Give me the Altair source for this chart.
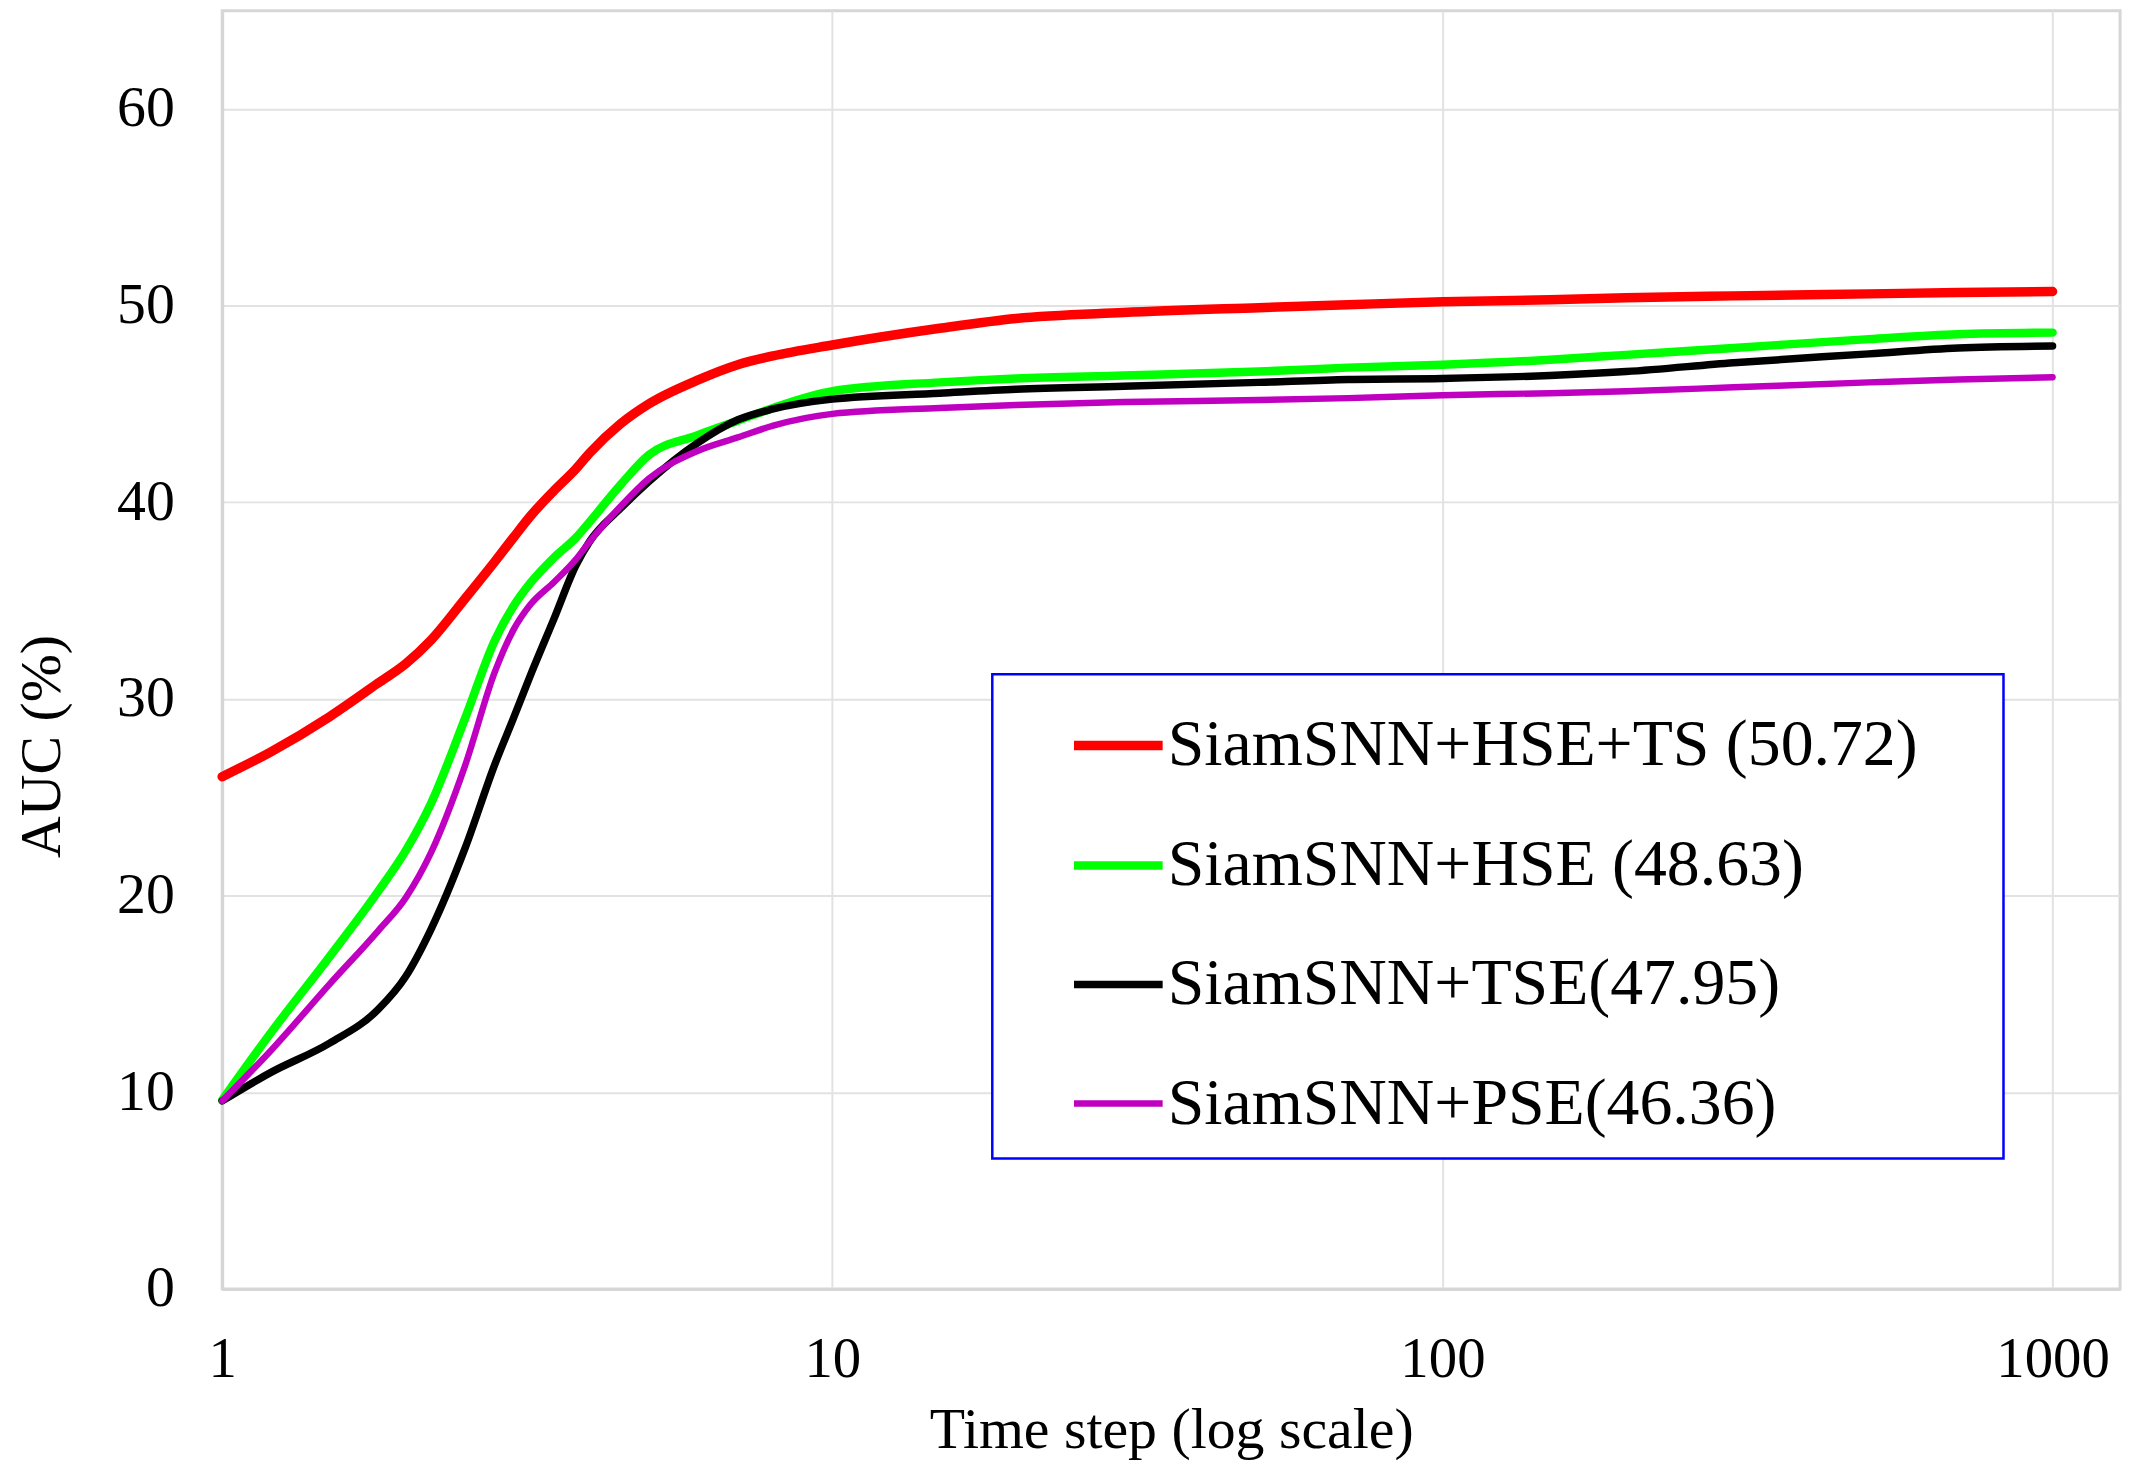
import altair as alt
import pandas as pd

# ---- data ----
steps = [1, 1.2, 1.5, 1.8, 2, 2.2, 2.5, 2.8, 3, 3.2, 3.5, 3.8, 4, 4.5, 5, 6, 7, 8,
         10, 15, 20, 30, 50, 70, 100, 150, 200, 300, 500, 700, 1000]

series_names = ["SiamSNN+HSE+TS (50.72)", "SiamSNN+HSE (48.63)",
                "SiamSNN+TSE(47.95)", "SiamSNN+PSE(46.36)"]

auc_hse_ts = [26.05, 27.3, 29.1, 30.8, 31.8, 33.0, 35.1, 37.0, 38.2, 39.3, 40.6,
              41.7, 42.5, 44.0, 45.0, 46.2, 47.0, 47.45, 48.0, 48.85, 49.35,
              49.65, 49.9, 50.05, 50.2, 50.3, 50.4, 50.5, 50.6, 50.67, 50.72]
auc_hse = [9.6, 13.0, 16.9, 20.2, 22.3, 24.7, 29.0, 33.0, 34.7, 35.9, 37.2,
           38.2, 39.0, 40.9, 42.4, 43.4, 44.15, 44.8, 45.65, 46.1, 46.3,
           46.45, 46.65, 46.85, 47.0, 47.25, 47.5, 47.85, 48.3, 48.55, 48.63]
auc_tse = [9.56, 11.0, 12.5, 14.2, 15.9, 18.3, 22.4, 26.7, 29.0, 31.2, 34.1,
           36.8, 38.0, 39.7, 41.05, 43.0, 44.2, 44.75, 45.25, 45.55, 45.75,
           45.9, 46.1, 46.25, 46.3, 46.45, 46.65, 47.1, 47.55, 47.85, 47.95]
auc_pse = [9.56, 12.1, 15.5, 18.2, 19.9, 22.2, 26.6, 31.4, 33.5, 34.8, 35.95,
           37.1, 38.0, 39.8, 41.2, 42.6, 43.3, 43.9, 44.5, 44.8, 44.95,
           45.1, 45.2, 45.3, 45.45, 45.55, 45.65, 45.85, 46.1, 46.25, 46.36]

colors = ["#ff0000", "#00ff00", "#000000", "#c000c0"]
widths = [9.5, 6.5, 6.5, 6.5]

y_ticks = [0, 10, 20, 30, 40, 50, 60]
x_ticks = [1, 10, 100, 1000]

all_values = [auc_hse_ts, auc_hse, auc_tse, auc_pse]
rows = []
for name, vals in zip(series_names, all_values):
    for s, v in zip(steps, vals):
        rows.append({"step": s, "auc": v, "series": name})
df = pd.DataFrame(rows)

FONT = "Liberation Serif"

chart = alt.Chart(df).mark_line(
    interpolate="monotone", strokeCap="round", strokeJoin="round"
).encode(
    x=alt.X("step:Q",
            scale=alt.Scale(type="log", domain=[1, 1290], nice=False),
            axis=alt.Axis(values=x_ticks, format="d", title="Time step (log scale)",
                          labelFontSize=57, labelPadding=43, ticks=False, tickSize=0,
                          labelFlush=False,
                          titleFontSize=58, titleY=159, titleBaseline="alphabetic")),
    y=alt.Y("auc:Q",
            scale=alt.Scale(domain=[0, 65], nice=False),
            axis=alt.Axis(values=y_ticks, title="AUC (%)",
                          labelFontSize=58, labelPadding=48, ticks=False, tickSize=0,
                          labelFlush=False,
                          titleFontSize=58, titleX=-163, titleY=738,
                          titleBaseline="alphabetic", titleAlign="center")),
    color=alt.Color("series:N", sort=series_names,
                    scale=alt.Scale(domain=series_names, range=colors),
                    legend=alt.Legend(title="\u00a0")),
    strokeWidth=alt.StrokeWidth("series:N", sort=series_names,
                                scale=alt.Scale(domain=series_names, range=widths),
                                legend=alt.Legend(title="\u00a0")),
    order=alt.Order("step:Q"),
).properties(
    width=1905, height=1283,
    autosize=alt.AutoSizeParams(type="none"),
    padding={"left": 215, "top": 0, "right": 14, "bottom": 170},
).configure(
    font=FONT,
    background="white",
).configure_view(
    stroke="#d6d6d6", strokeWidth=3
).configure_axis(
    labelFont=FONT, titleFont=FONT, labelColor="black", titleColor="black",
    titleFontWeight="normal", grid=True, gridColor="#e2e2e2", gridWidth=2,
    domainColor="#d6d6d6", domainWidth=3,
).configure_legend(
    orient="none", legendX=773, legendY=666,
    padding=22, strokeColor="#0000ff", strokeWidth=2.5, fillColor="white",
    symbolType="stroke", symbolSize=7921, symbolOffset=55,
    labelFont=FONT, labelFontSize=66, labelColor="black", labelOffset=0,
    labelLimit=0, rowPadding=38,
    titleOrient="right", titlePadding=64, titleFontSize=8, titleFont=FONT,
)

chart.save("out.html", embed_options={"renderer": "svg", "actions": False})
